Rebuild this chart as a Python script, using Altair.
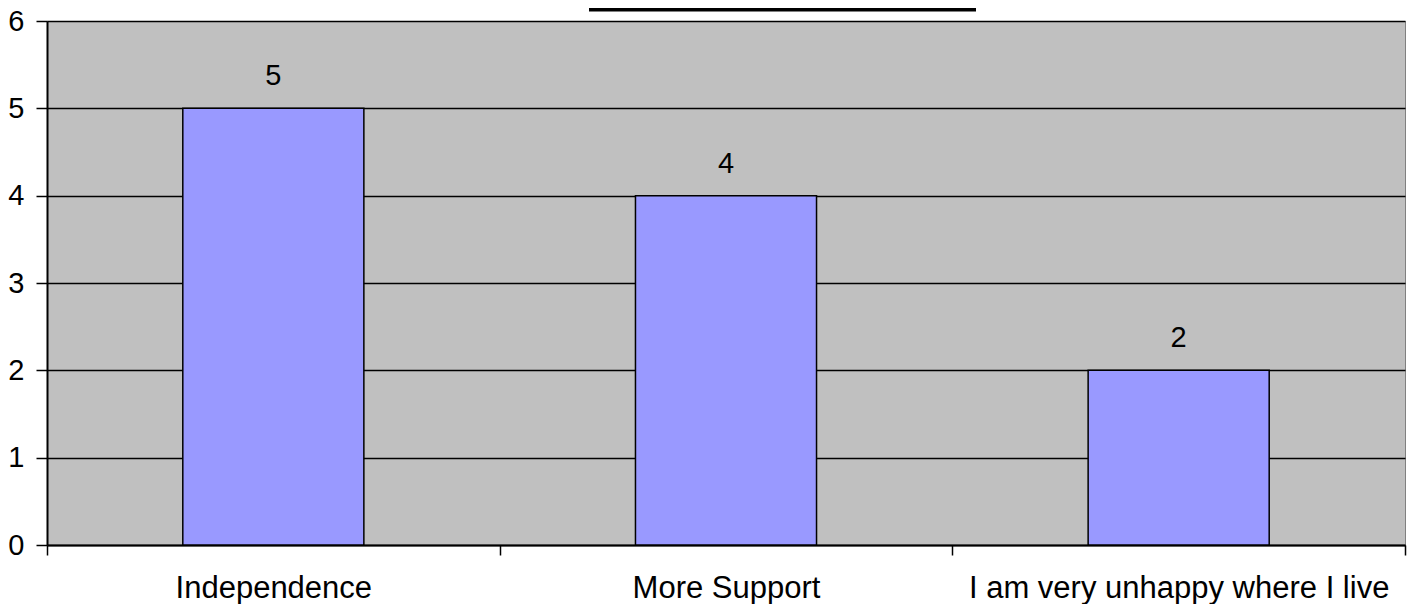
import altair as alt
import pandas as pd

categories = ["Independence", "More Support", "I am very unhappy where I live"]
values = [5, 4, 2]
y_ticks = [0, 1, 2, 3, 4, 5, 6]
title_text = "I want to move because..."

df = pd.DataFrame({"cat": categories, "val": values})
FONT = "Liberation Sans"

x_enc = alt.X(
    "cat:N",
    sort=categories,
    scale=alt.Scale(paddingInner=0, paddingOuter=0),
    axis=alt.Axis(
        title=None, labelAngle=0, labelFontSize=31, labelFont=FONT, labelColor="black",
        tickBand="extent", tickSize=10, tickColor="black", tickWidth=1.5, labelLimit=0,
        domainColor="black", domainWidth=2, labelPadding=18, grid=False,
    ),
)
y_enc = alt.Y(
    "val:Q",
    scale=alt.Scale(domain=[0, 6]),
    axis=alt.Axis(
        title=None, values=y_ticks, format="d", labelFontSize=29, labelFont=FONT,
        labelColor="black", tickSize=11, tickColor="black", tickWidth=1.5,
        domainColor="black", domainWidth=2, labelPadding=12,
        grid=True, gridColor="black", gridWidth=1.5,
    ),
)

bars = alt.Chart(df).mark_bar(
    color="#9999FF", stroke="black", strokeWidth=1.5, width={"band": 0.4}
).encode(x=x_enc, y=y_enc)

labels = alt.Chart(df).mark_text(
    fontSize=29, font=FONT, color="black", dy=-32
).encode(x=alt.X("cat:N", sort=categories), y="val:Q", text="val:Q")

underline = alt.Chart(pd.DataFrame({"t": [title_text]})).mark_rule(
    color="black", strokeWidth=4
).encode(x=alt.value(542), x2=alt.value(929), y=alt.value(-11.5))

chart = alt.layer(bars, labels, underline).properties(
    width=1358,
    height=524,
    autosize=alt.AutoSizeParams(type="none"),
    padding={"left": 39, "top": 13, "right": 4, "bottom": 59},
    background="white",
    title=alt.TitleParams(
        title_text, fontSize=30, fontWeight="bold", font=FONT, color="black",
        anchor="middle", baseline="alphabetic", offset=16, dx=56, frame="group",
    ),
).configure_view(fill="#C0C0C0", stroke="#808080", strokeWidth=1)

chart.save("out.html", embed_options={"renderer": "svg", "actions": False})
